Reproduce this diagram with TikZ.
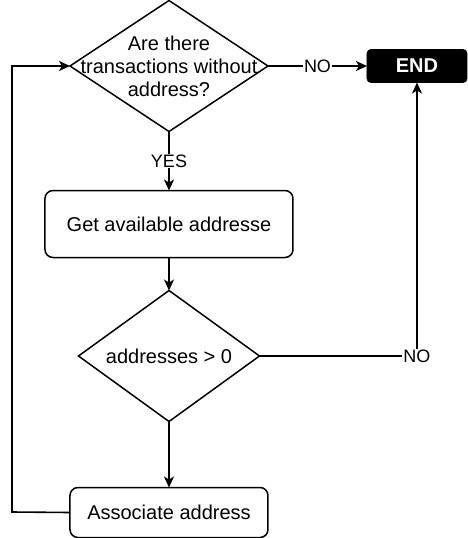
\documentclass[tikz,border=0pt]{standalone}
\usepackage{fontspec}
\setmainfont{Liberation Sans}
\usetikzlibrary{positioning,shapes.geometric,arrows.meta}

\tikzset{
  decision/.style={draw,diamond,inner sep=0pt,outer sep=0pt,line width=0.75pt},
  stepbox/.style={draw,rounded corners=4pt,inner sep=0pt,outer sep=0pt,line width=0.75pt,font=\fontsize{10}{11.5}\selectfont},
  endbox/.style={draw,fill=black,text=white,rounded corners=2pt,inner sep=0pt,outer sep=0pt,font=\fontsize{10}{12}\selectfont\bfseries},
  arr/.style={line width=0.8pt,-{Stealth[length=5.5pt,width=5pt,inset=1.5pt]}},
  lbl/.style={fill=white,inner sep=0.5pt,font=\fontsize{9}{10}\selectfont}
}

\begin{document}
\begin{tikzpicture}[x=0.5pt,y=-0.5pt]
  \useasboundingbox (0,0) rectangle (468,538);

  \node[decision,minimum width=99pt,minimum height=65.5pt,
    label={[align=center,font=\fontsize{10}{11.5}\selectfont]center:Are there\\transactions without\\address?}] (ask) at (169,66) {};
  \node[endbox,minimum width=50pt,minimum height=16.5pt,right=49.5pt of ask] (end) {END};
  \node[stepbox,minimum width=124pt,minimum height=33.5pt,below=29.5pt of ask] (get) {Get available addresse};
  \node[decision,minimum width=90.5pt,minimum height=65.5pt,below=16.5pt of get,
    label={[font=\fontsize{10}{11.5}\selectfont]center:addresses > 0}] (check) {};
  \node[stepbox,minimum width=99pt,minimum height=25pt,below=33pt of check] (assoc) {Associate address};

  \coordinate (back) at (12,512);

  \draw[arr] (ask) -- node[lbl] {NO} (end);
  \draw[arr] (ask) -- node[lbl] {YES} (get);
  \draw[arr] (get) -- (check);
  \draw[arr] (check) -| node[lbl] {NO} (end);
  \draw[arr] (check) -- (assoc);
  \draw[arr] (assoc.west) -- (back) |- (ask.west);
\end{tikzpicture}
\end{document}
